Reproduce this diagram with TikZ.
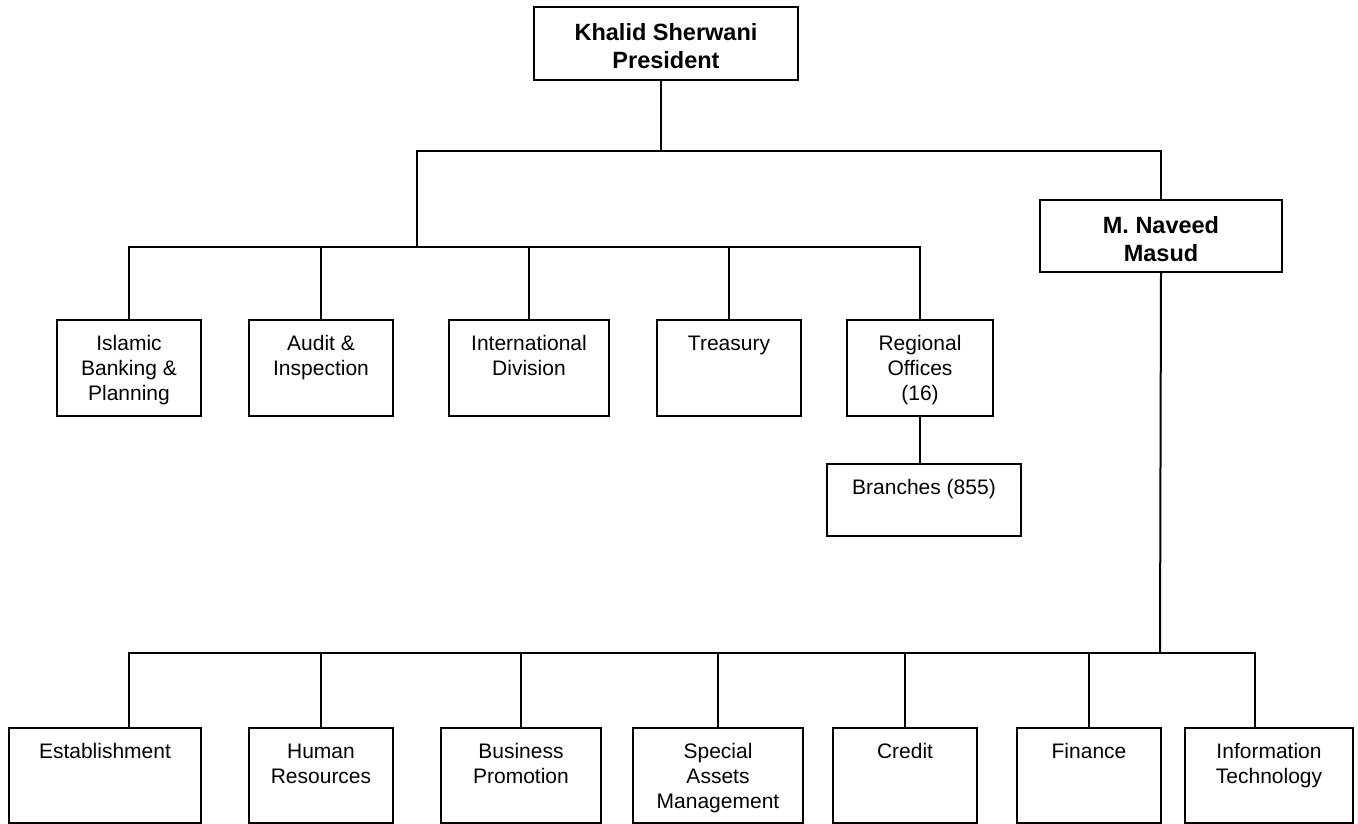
\documentclass[tikz,border=0pt]{standalone}
\usepackage{fontspec}
\setmainfont{Liberation Sans}

\newcommand{\unittext}[3]{\parbox[t][#2][t]{#1}{\centering\rule{0pt}{30pt}#3}}
\newcommand{\headtext}[3]{\parbox[t][#2][t]{#1}{\centering\rule{0pt}{33pt}#3}}

\begin{document}
\begin{tikzpicture}[x=1pt, y=-1pt, line width=2pt,
	unit/.style={draw, inner sep=0pt, anchor=north west, font=\fontsize{21}{25}\selectfont},
	head/.style={unit, font=\fontsize{23.5}{28}\selectfont\bfseries}]
	
	\useasboundingbox (0,0) rectangle (1358,823);
	
	\node (pres) [head] at (533,6) {\headtext{264pt}{73pt}{Khalid Sherwani\\President}};
	\node (masud) [head] at (1039,199) {\headtext{242pt}{72pt}{M. Naveed\\Masud}};
	
	\node (islamic) [unit] at (56,319) {\unittext{144pt}{96pt}{Islamic\\Banking \&\\Planning}};
	\node (audit) [unit] at (248,319) {\unittext{144pt}{96pt}{Audit \&\\Inspection}};
	\node (intl) [unit] at (448,319) {\unittext{160pt}{96pt}{International\\Division}};
	\node (treasury) [unit] at (656,319) {\unittext{144pt}{96pt}{Treasury}};
	\node (regional) [unit] at (846,319) {\unittext{146pt}{96pt}{Regional\\Offices\\(16)}};
	\node (branches) [unit] at (826,463) {\unittext{194pt}{72pt}{Branches (855)}};
	
	\node (estab) [unit] at (8,727) {\unittext{192pt}{95pt}{Establishment}};
	\node (hr) [unit] at (248,727) {\unittext{144pt}{95pt}{Human\\Resources}};
	\node (bizpro) [unit] at (440,727) {\unittext{160pt}{95pt}{Business\\Promotion}};
	\node (sam) [unit] at (632,727) {\unittext{170pt}{95pt}{Special\\Assets\\Management}};
	\node (credit) [unit] at (832,727) {\unittext{144pt}{95pt}{Credit}};
	\node (finance) [unit] at (1016,727) {\unittext{144pt}{95pt}{Finance}};
	\node (itech) [unit] at (1184,727) {\unittext{168pt}{95pt}{Information\\Technology}};
	
	\coordinate (busL) at (417,151);
	\coordinate (busA) at (417,247);
	\coordinate (busB) at (1160,653);
	
	\draw ([xshift=-5pt]pres.south) -- ([xshift=-5pt]pres.south |- busL);
	\draw (busA) -- (busL) -| (masud.north);
	\draw (islamic.north) |- (busA) -| (regional.north);
	\foreach \n in {audit, intl, treasury}
		\draw (\n.north) -- (\n.north |- busA);
	\draw (regional.south) -- (regional.south |- branches.north);
	
	\draw (masud.south) -- (busB);
	\draw ([xshift=24pt]estab.north) |- (busB) -| ([xshift=-14pt]itech.north);
	\foreach \n in {hr, bizpro, sam, credit, finance}
		\draw (\n.north) -- (\n.north |- busB);
	
\end{tikzpicture}
\end{document}
